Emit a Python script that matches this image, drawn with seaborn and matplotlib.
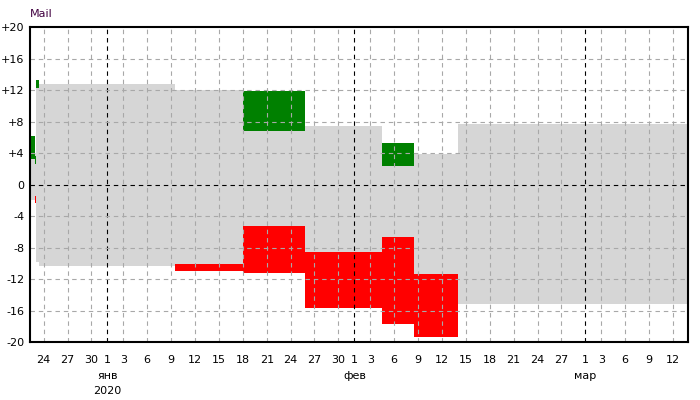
import matplotlib
matplotlib.use("Agg")
import matplotlib.pyplot as plt
import matplotlib.dates as mdates
from matplotlib.ticker import FuncFormatter, FixedLocator
import pandas as pd
import seaborn as sns

# ---------------- data ----------------
band_start = ["2019-12-22 00:00", "2019-12-23 00:00", "2019-12-23 10:00", "2020-01-09 12:00",
              "2020-01-18 00:40", "2020-01-25 20:00", "2020-02-04 12:00", "2020-02-08 12:00",
              "2020-02-14 00:00"]
band_end_final = "2020-03-15 00:00"
band_high = [4.0, 12.77, 12.77, 12.0, 11.87, 7.44, 3.85, 3.85, 7.69]
band_low = [-1.97, -9.83, -10.33, -10.08, -5.3, -8.6, -6.7, -11.4, -15.19]

green_start = ["2019-12-21 00:00", "2019-12-22 20:40", "2019-12-23 00:00", "2020-01-18 00:40", "2020-02-04 12:00"]
green_end = ["2019-12-22 20:40", "2019-12-23 00:00", "2019-12-23 10:00", "2020-01-25 20:00", "2020-02-08 12:00"]
green_low = [3.24, 2.6, 12.27, 6.8, 2.36]
green_high = [6.17, 3.6, 13.27, 11.87, 5.27]

red_start = ["2019-12-22 20:40", "2020-01-09 12:00", "2020-01-18 00:40", "2020-01-25 20:00",
             "2020-02-04 12:00", "2020-02-08 12:00"]
red_end = ["2019-12-23 00:00", "2020-01-18 00:40", "2020-01-25 20:00", "2020-02-04 12:00",
           "2020-02-08 12:00", "2020-02-14 00:00"]
red_low = [-2.35, -10.97, -11.22, -15.63, -17.66, -19.3]
red_high = [-1.45, -10.08, -5.23, -8.55, -6.65, -11.38]

y_ticks = [-20, -16, -12, -8, -4, 0, 4, 8, 12, 16, 20]
month_labels = {"2020-01-01": "янв", "2020-02-01": "фев", "2020-03-01": "мар"}
year_label = ("2020-01-01", "2020")
series_label = "Mail"
x_min, x_max = "2019-12-22 07:00", "2020-03-13 22:00"

# ---------------- plot ----------------
sns.set_style("white")
plt.rcParams["font.family"] = ["DejaVu Sans"]

fig = plt.figure(figsize=(7, 4), dpi=100)
ax = fig.add_axes([30 / 700, 1 - 342.3 / 400, (688.3 - 30) / 700, (342.3 - 27) / 400])

def dnum(s):
    return mdates.date2num(pd.Timestamp(s))

bx = [dnum(s) for s in band_start] + [dnum(band_end_final)]
bh = band_high + [band_high[-1]]
bl = band_low + [band_low[-1]]
ax.fill_between(bx, bl, bh, step="post", color="#d6d6d6", linewidth=0, zorder=1)

gs = [dnum(s) for s in green_start]
ge = [dnum(s) for s in green_end]
ax.bar(gs, [h - l for h, l in zip(green_high, green_low)], bottom=green_low,
       width=[e - s for s, e in zip(gs, ge)], align="edge", color="#008000", linewidth=0, zorder=2)

rs = [dnum(s) for s in red_start]
re_ = [dnum(s) for s in red_end]
ax.bar(rs, [h - l for h, l in zip(red_high, red_low)], bottom=red_low,
       width=[e - s for s, e in zip(rs, re_)], align="edge", color="#ff0000", linewidth=0, zorder=2)

ax.set_xlim(dnum(x_min), dnum(x_max))
ax.set_ylim(-20, 20)

# x ticks
ax.xaxis.set_major_locator(mdates.DayLocator(bymonthday=[1, 3, 6, 9, 12, 15, 18, 21, 24, 27, 30]))
ax.xaxis.set_major_formatter(FuncFormatter(lambda v, p: str(mdates.num2date(v).day)))
ax.yaxis.set_major_locator(FixedLocator(y_ticks))
ax.yaxis.set_major_formatter(FuncFormatter(lambda v, p: ("+%d" % v) if v > 0 else ("%d" % v)))
ax.tick_params(axis="both", length=0, labelsize=8, colors="black")
ax.tick_params(axis="x", pad=9)
ax.tick_params(axis="y", pad=4)

# grid
for t in ax.get_xticks():
    day = mdates.num2date(t).day
    ax.axvline(t, color="black" if day == 1 else "#a8a8a8", linestyle=(0, (4, 3.5)),
               linewidth=0.8, zorder=3)
for v in y_ticks:
    if v in (-20, 20):
        continue
    ax.axhline(v, color="black" if v == 0 else "#a8a8a8", linestyle=(0, (4, 3.5)),
               linewidth=0.8, zorder=3)

for sp in ax.spines.values():
    sp.set_color("black")
    sp.set_linewidth(1.5)
    sp.set_zorder(5)

# month/year labels
for d, lab in month_labels.items():
    ax.annotate(lab, xy=(dnum(d), 0), xycoords=("data", "axes fraction"),
                xytext=(0, -24.5), textcoords="offset points", ha="center", va="center",
                fontsize=8, color="black", annotation_clip=False)
ax.annotate(year_label[1], xy=(dnum(year_label[0]), 0), xycoords=("data", "axes fraction"),
            xytext=(0, -35), textcoords="offset points", ha="center", va="center",
            fontsize=8, color="black", annotation_clip=False)

fig.text(30 / 700, 1 - 14 / 400, series_label, fontsize=8, color="#400040", va="center", ha="left")

fig.savefig("out.png", dpi=100)
